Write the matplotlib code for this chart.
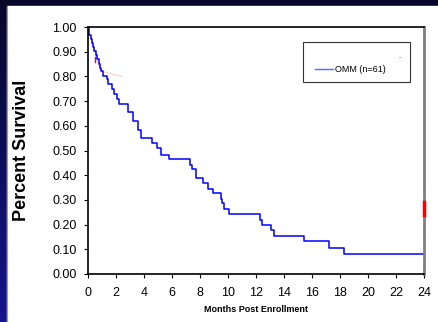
import numpy as np
import matplotlib
matplotlib.use("Agg")
import matplotlib.pyplot as plt
from matplotlib.lines import Line2D
from matplotlib.patches import Rectangle

plt.rcParams['font.family'] = ['Liberation Sans', 'DejaVu Sans']

# Kaplan-Meier steps (time in months, survival after drop)
months = [0.0, 0.05, 0.1, 0.2, 0.3, 0.38, 0.45, 0.55, 0.65, 0.75, 0.85, 0.93,
          1.07, 1.33, 1.45, 1.7, 1.88, 2.05, 2.24, 2.86, 3.2, 3.57, 3.8,
          4.57, 4.93, 5.2, 5.8, 7.3, 7.4, 7.7, 8.2, 8.6, 8.95, 9.5, 9.6,
          9.7, 10.1, 12.3, 12.4, 13.1, 13.3, 15.4, 17.2, 18.3, 24.0]
survival = [1.0, 0.984, 0.967, 0.951, 0.934, 0.918, 0.902, 0.885, 0.869, 0.852,
            0.836, 0.82, 0.80, 0.79, 0.77, 0.75, 0.73, 0.71, 0.69, 0.656,
            0.62, 0.585, 0.551, 0.53, 0.51, 0.482, 0.465, 0.44, 0.425, 0.39,
            0.368, 0.344, 0.328, 0.304, 0.287, 0.263, 0.243, 0.219, 0.198,
            0.178, 0.154, 0.134, 0.105, 0.081, 0.081]

# faint red traces left in the original picture
ghost_t = [0.21, 0.5, 0.79, 0.93, 1.0, 2.43]
ghost_s = [0.96, 0.9, 0.84, 0.826, 0.82, 0.80]
red_t = [0.5, 0.5]
red_s = [0.88, 0.86]
end_t = [24.0, 24.0]
end_s = [0.29, 0.24]

xticks = np.arange(0, 25, 2)
yticks = np.arange(0, 1.01, 0.1)

fig = plt.figure(figsize=(4.38, 3.22), dpi=100)

# dark slide frame
bg = fig.add_axes([0, 0, 1, 1], zorder=-10)
grad = np.linspace(0, 1, 256).reshape(-1, 1)
top_c = np.array([0.03, 0.03, 0.16])
bot_c = np.array([0.08, 0.08, 0.55])
img = top_c + (bot_c - top_c) * grad[:, :, None]
bg.imshow(img, aspect='auto', extent=[0, 1, 0, 1], origin='upper')
bg.add_patch(Rectangle((7 / 438, 0), 1, 1 - 5.5 / 322, color='white'))
bg.plot([7 / 438, 7 / 438], [0, 1 - 5.5 / 322], color='#999999', lw=0.8)
bg.set_xlim(0, 1)
bg.set_ylim(0, 1)
bg.axis('off')

ax = fig.add_axes([88 / 438, 1 - 274 / 322, 336 / 438, 247 / 322])
ax.set_facecolor('none')

ax.plot(ghost_t, ghost_s, color='#f8c0c0', lw=0.8, alpha=0.7)
ax.plot(red_t, red_s, color='red', lw=1.0)
ax.step(months, survival, where='post', color='#0000ff', lw=1.1)
ax.plot(end_t, end_s, color='red', lw=2.5, clip_on=False, zorder=5)

ax.set_xlim(0, 24)
ax.set_ylim(0, 1)
ax.set_xticks(xticks)
ax.set_yticks(yticks)
ax.set_yticklabels(['%.2f' % v for v in yticks])
ax.tick_params(axis='both', labelsize=9, length=3, width=0.8, pad=5,
               direction='out', colors='black')
ax.tick_params(axis='x', pad=6)
for side in ['left', 'bottom', 'top']:
    ax.spines[side].set_color('black')
    ax.spines[side].set_linewidth(1.2)
ax.spines['right'].set_color('#808080')
ax.spines['right'].set_linewidth(2)

# legend box
ax.add_patch(Rectangle((0.64, 0.777), 0.318, 0.162, transform=ax.transAxes,
                       facecolor='white', edgecolor='#333333', lw=0.8, zorder=6))
ax.text(0.929, 0.874, '-', transform=ax.transAxes, fontsize=5, color='#666666',
        ha='center', va='center', zorder=7)
leg = ax.legend([Line2D([], [], color='#6060ff', lw=1)], ['OMM (n=61)'],
                loc='center left', bbox_to_anchor=(0.676, 0.826), frameon=False,
                fontsize=6.5, handlelength=2.0, handletextpad=0.2, borderpad=0,
                borderaxespad=0)
leg.set_zorder(8)

fig.text(22 / 438, 1 - 150 / 322, 'Percent Survival', rotation=90,
         fontsize=13, fontweight='bold', ha='center', va='center')
fig.text(256 / 438, 1 - 310 / 322, 'Months Post Enrollment', fontsize=6.5,
         fontweight='bold', ha='center', va='center')

fig.savefig('out.png', dpi=100)
